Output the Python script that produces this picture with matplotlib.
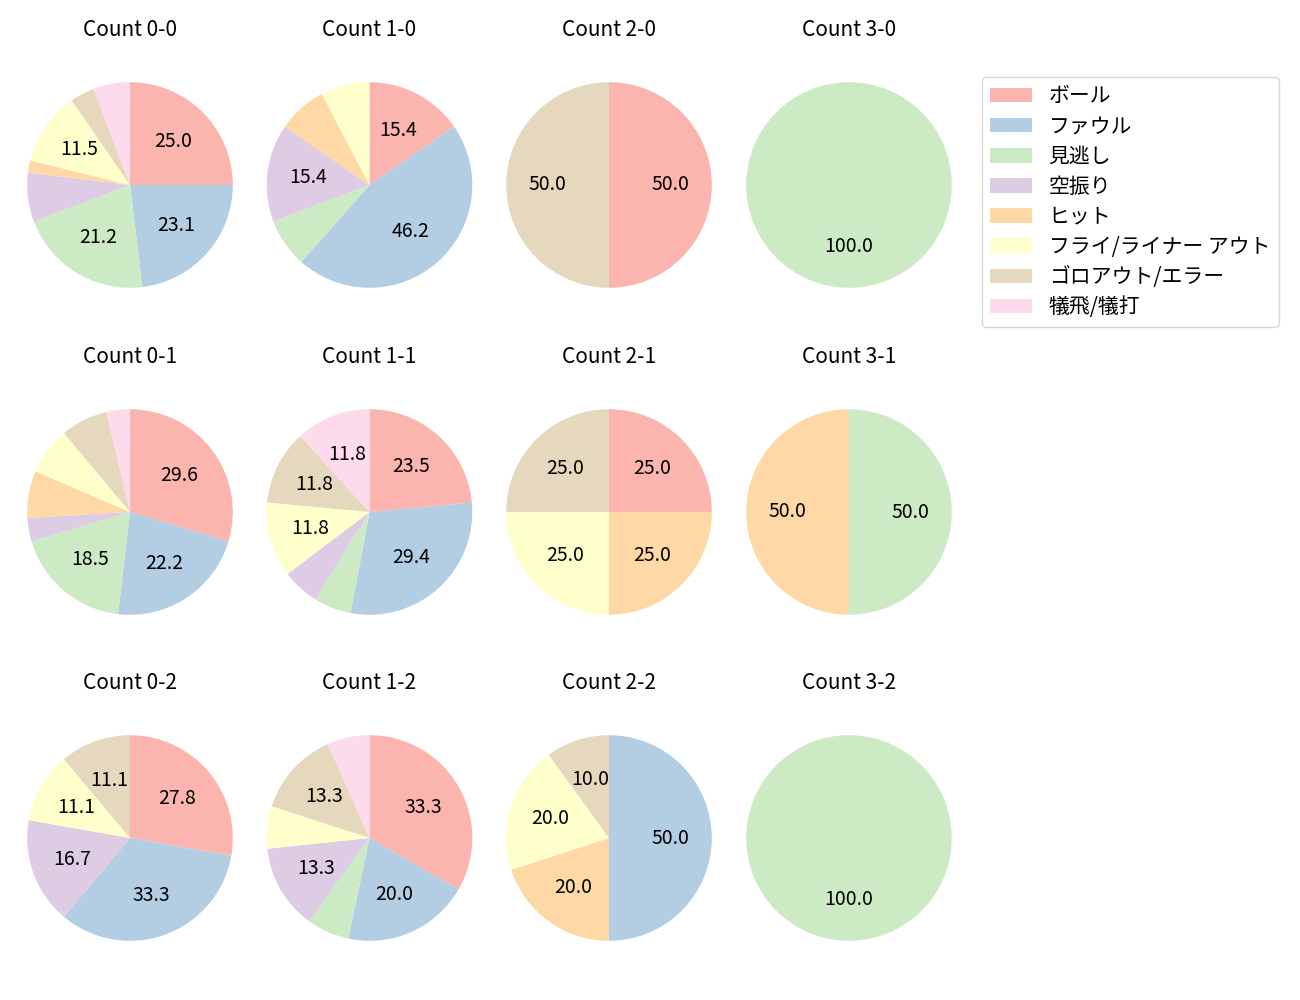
import matplotlib.pyplot as plt

plt.rcParams['font.family'] = ['Noto Sans CJK JP', 'DejaVu Sans']
plt.rcParams['font.size'] = 14

# 結果の種類
labels = ['ボール', 'ファウル', '見逃し', '空振り', 'ヒット',
          'フライ/ライナー アウト', 'ゴロアウト/エラー', '犠飛/犠打']

# カウントごとの件数 (ボール-ストライク)
count_names = ['0-0', '1-0', '2-0', '3-0',
               '0-1', '1-1', '2-1', '3-1',
               '0-2', '1-2', '2-2', '3-2']
c_0_0 = [13, 12, 11, 4, 1, 6, 2, 3]
c_1_0 = [2, 6, 1, 2, 1, 1, 0, 0]
c_2_0 = [1, 0, 0, 0, 0, 0, 1, 0]
c_3_0 = [0, 0, 1, 0, 0, 0, 0, 0]
c_0_1 = [8, 6, 5, 1, 2, 2, 2, 1]
c_1_1 = [4, 5, 1, 1, 0, 2, 2, 2]
c_2_1 = [1, 0, 0, 0, 1, 1, 1, 0]
c_3_1 = [0, 0, 1, 0, 1, 0, 0, 0]
c_0_2 = [5, 6, 0, 3, 0, 2, 2, 0]
c_1_2 = [5, 3, 1, 2, 0, 1, 2, 1]
c_2_2 = [0, 5, 0, 0, 2, 2, 1, 0]
c_3_2 = [0, 0, 1, 0, 0, 0, 0, 0]
data = [c_0_0, c_1_0, c_2_0, c_3_0,
        c_0_1, c_1_1, c_2_1, c_3_1,
        c_0_2, c_1_2, c_2_2, c_3_2]

colors = plt.cm.Pastel1.colors[:8]


def show_pct(p):
    # 10%未満はラベルを出さない
    return '%.1f' % p if p >= 10 else ''


fig = plt.figure(figsize=(13, 10))
W, H = 1300, 1000
side = 257
xs = [130, 369.5, 609, 849]
ys = [185, 512, 838]

wedges_first = None
for i, (name, vals) in enumerate(zip(count_names, data)):
    r, c = divmod(i, 4)
    ax = fig.add_axes([(xs[c] - side / 2) / W, 1 - (ys[r] + side / 2) / H,
                       side / W, side / H])
    wedges, _, _ = ax.pie(vals, colors=colors, startangle=90, counterclock=False,
                          autopct=show_pct, textprops={'fontsize': 14})
    ax.set_title('Count ' + name, fontsize=15, pad=15)
    if wedges_first is None:
        wedges_first = wedges

fig.legend(wedges_first, labels, loc='upper left',
           bbox_to_anchor=(982 / W, 1 - 77 / H), borderaxespad=0,
           fontsize=15, labelspacing=0.39)

plt.savefig('out.png', dpi=100)
